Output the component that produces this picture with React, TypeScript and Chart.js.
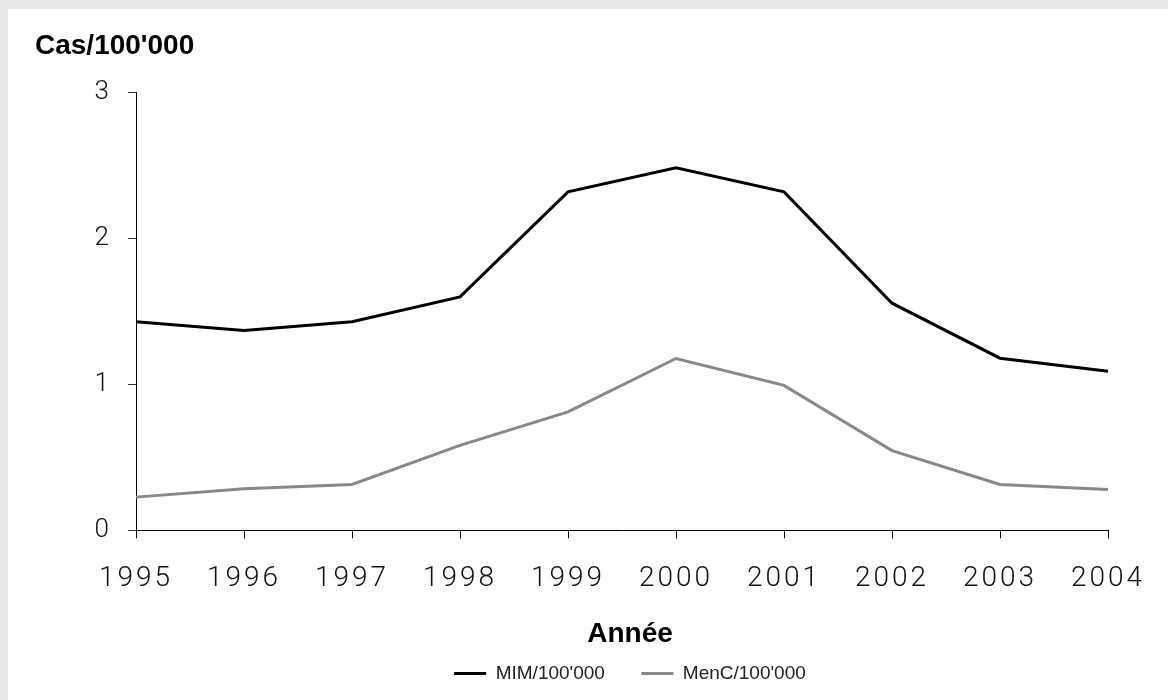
import React, { useEffect, useRef } from 'react';
import { Chart, registerables } from 'chart.js';

Chart.register(...registerables);

// ---- data ----
const years = ['1995', '1996', '1997', '1998', '1999', '2000', '2001', '2002', '2003', '2004'];
const mimValues = [1.43, 1.37, 1.43, 1.6, 2.32, 2.485, 2.32, 1.557, 1.18, 1.09];
const mencValues = [0.228, 0.285, 0.315, 0.583, 0.812, 1.178, 0.994, 0.547, 0.315, 0.28];
const seriesLabels = ["MIM/100'000", "MenC/100'000"];
const yAxisTitle = "Cas/100'000";
const xAxisTitle = 'Année';
const yMin = 0;
const yMax = 3;
const yStep = 1;

const SANS = '"Liberation Sans", Arial, Helvetica, sans-serif';
const LIGHT = 'Roboto, "Liberation Sans", Arial, sans-serif';

const xLetterSpacing = {
  id: 'xLetterSpacing',
  beforeDraw(chart: any) {
    const sc = chart.scales.x;
    if (sc && !sc.__lsPatched) {
      const orig = sc.drawLabels.bind(sc);
      sc.drawLabels = (area: any) => {
        const ctx = chart.ctx;
        ctx.save();
        (ctx as any).letterSpacing = '3px';
        orig(area);
        ctx.restore();
      };
      sc.__lsPatched = true;
    }
  },
};

export default function App() {
  const ref = useRef<HTMLCanvasElement>(null);

  useEffect(() => {
    document.documentElement.style.background = '#e7e8ea';
    document.body.style.margin = '0';
    document.body.style.overflow = 'hidden';

    const chart = new Chart(ref.current as HTMLCanvasElement, {
      type: 'line',
      data: {
        labels: years,
        datasets: [
          {
            label: seriesLabels[0],
            data: mimValues,
            borderColor: '#000000',
            backgroundColor: '#000000',
            borderWidth: 3,
            pointRadius: 0,
            pointStyle: 'line',
            tension: 0,
            yAxisID: 'y',
          },
          {
            label: seriesLabels[1],
            data: mencValues,
            borderColor: '#888888',
            backgroundColor: '#888888',
            borderWidth: 3,
            pointRadius: 0,
            pointStyle: 'line',
            tension: 0,
            yAxisID: 'y',
          },
        ],
      },
      plugins: [xLetterSpacing],
      options: {
        animation: false,
        responsive: true,
        maintainAspectRatio: false,
        layout: { padding: { left: 27, right: 27, top: 0, bottom: 7 } },
        scales: {
          x: {
            type: 'category',
            offset: false,
            grid: { display: true, drawOnChartArea: false, drawTicks: true, tickLength: 8, color: '#000', lineWidth: 1 },
            border: { display: true, color: '#000', width: 1 },
            ticks: {
              autoSkip: false,
              maxRotation: 0,
              padding: 24,
              color: '#111',
              font: { family: LIGHT, size: 28, weight: '300' as any, lineHeight: 1.2 },
            },
          },
          y: {
            type: 'linear',
            position: 'left',
            min: yMin,
            max: yMax,
            grid: { display: true, drawOnChartArea: false, drawTicks: true, tickLength: 8, color: '#333', lineWidth: 1 },
            border: { display: true, color: '#000', width: 1 },
            ticks: {
              stepSize: yStep,
              padding: 19,
              color: '#111',
              font: { family: LIGHT, size: 26, weight: '300' as any },
            },
            afterFit: (s: any) => {
              s.width = 101;
            },
          },
          yRight: {
            type: 'linear',
            position: 'right',
            display: true,
            grid: { display: false },
            border: { display: false },
            ticks: { display: false },
            afterFit: (s: any) => {
              s.width = 117;
            },
          },
        },
        plugins: {
          title: {
            display: true,
            text: yAxisTitle,
            align: 'start',
            position: 'top',
            color: '#000',
            font: { family: SANS, size: 28, weight: 'bold', lineHeight: 1.2 },
            padding: { top: 20, bottom: 30 },
          },
          subtitle: {
            display: true,
            text: xAxisTitle,
            align: 'center',
            position: 'bottom',
            color: '#000',
            font: { family: SANS, size: 28, weight: 'bold', lineHeight: 1.0 },
            padding: { top: 0, bottom: 6 },
            weight: 500,
          } as any,
          legend: {
            display: true,
            position: 'bottom',
            align: 'center',
            weight: 1000,
            labels: {
              usePointStyle: true,
              pointStyleWidth: 32,
              boxHeight: 19,
              padding: 10,
              color: '#222',
              font: { family: SANS, size: 19 },
              generateLabels: (c: any) => {
                const items = (Chart.defaults.plugins.legend.labels as any).generateLabels(c);
                items.forEach((it: any, i: number) => {
                  if (i < items.length - 1) it.text = it.text + '     ';
                });
                return items;
              },
            },
          } as any,
          tooltip: { enabled: false },
        },
      },
    });
    return () => chart.destroy();
  }, []);

  return (
    <div
      style={{
        position: 'fixed',
        left: 8,
        top: 9,
        right: 0,
        bottom: 0,
        background: '#ffffff',
        overflow: 'hidden',
      }}
    >
      <div style={{ position: 'relative', width: 1244, height: 691 }}>
        <canvas ref={ref} />
      </div>
    </div>
  );
}
